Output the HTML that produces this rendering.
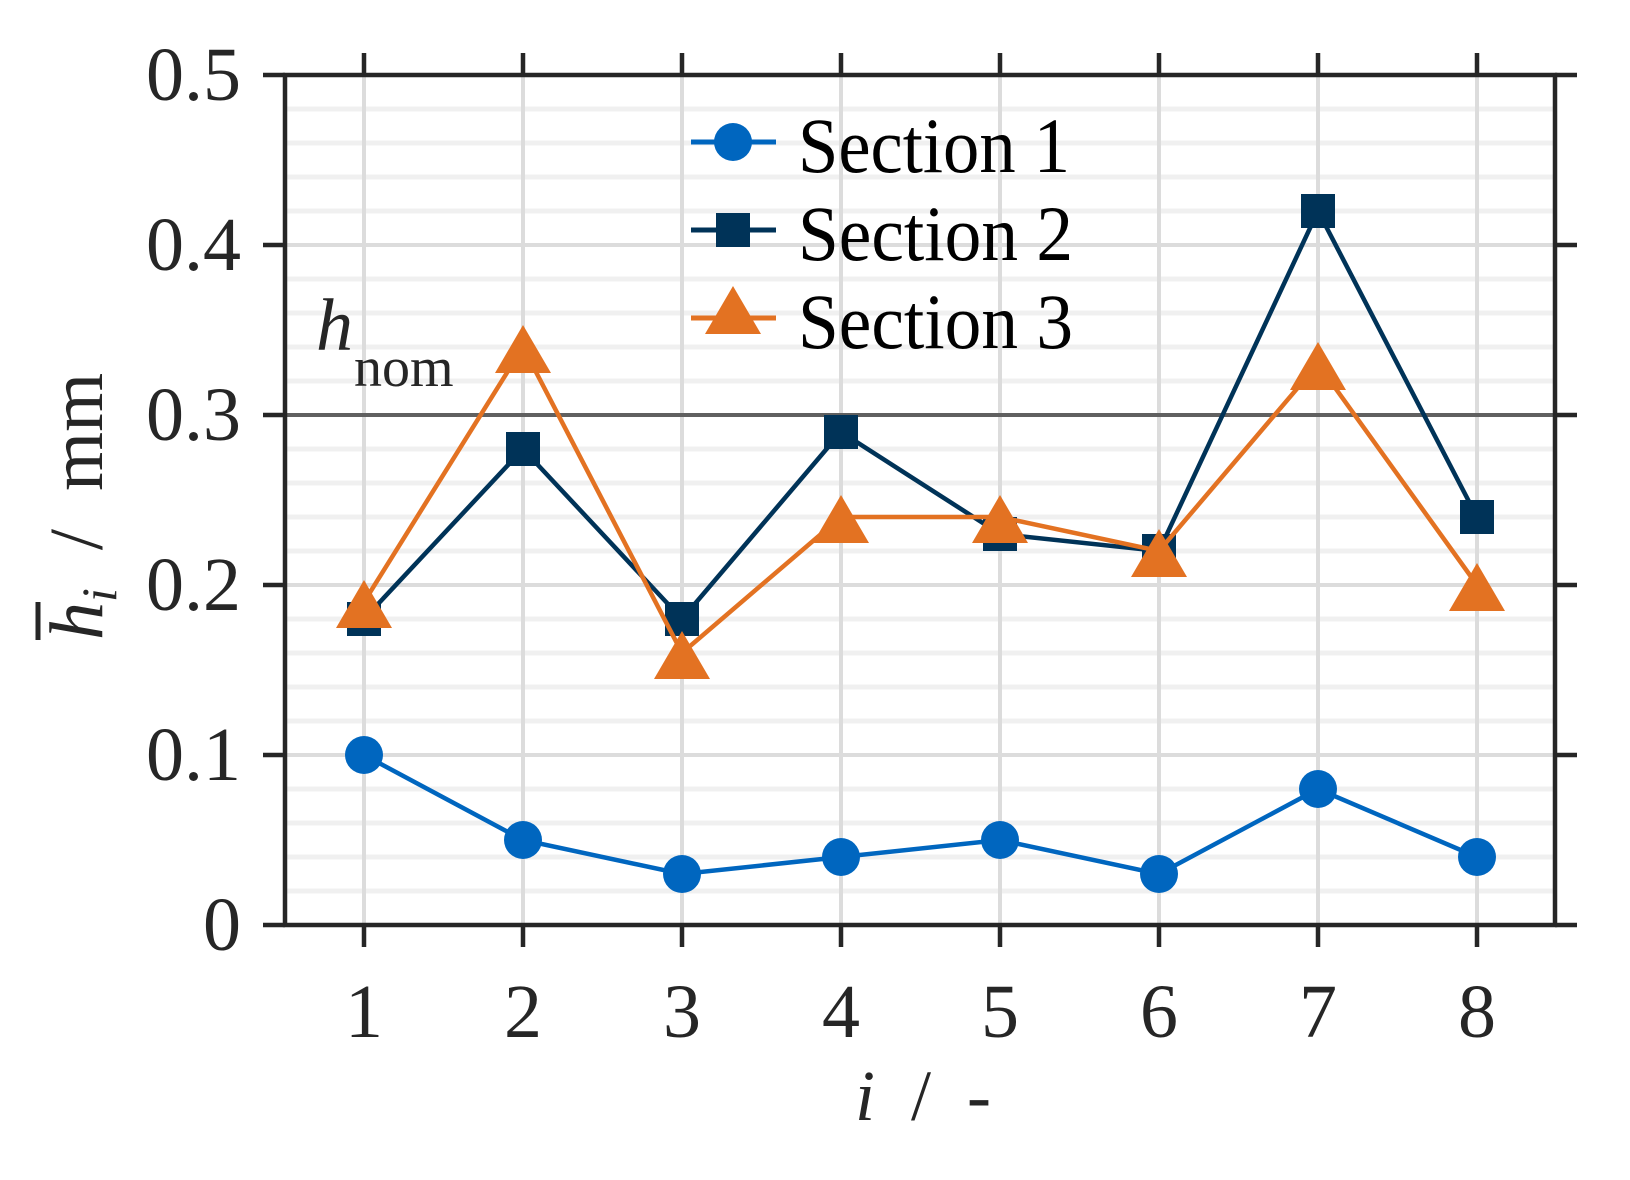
<!DOCTYPE html>
<html><head><meta charset="utf-8"><style>html,body{margin:0;padding:0;background:#fff}svg{display:block}</style></head>
<body>
<svg width="1630" height="1180" viewBox="0 0 1630 1180" xmlns="http://www.w3.org/2000/svg" font-family="Liberation Serif, serif" fill="#262626">
<g id="minor" stroke="#f0f0f0" stroke-width="5">
<line x1="287" x2="1553" y1="891" y2="891"/><line x1="287" x2="1553" y1="857" y2="857"/><line x1="287" x2="1553" y1="823" y2="823"/><line x1="287" x2="1553" y1="789" y2="789"/>
<line x1="287" x2="1553" y1="721" y2="721"/><line x1="287" x2="1553" y1="687" y2="687"/><line x1="287" x2="1553" y1="653" y2="653"/><line x1="287" x2="1553" y1="619" y2="619"/>
<line x1="287" x2="1553" y1="551" y2="551"/><line x1="287" x2="1553" y1="517" y2="517"/><line x1="287" x2="1553" y1="483" y2="483"/><line x1="287" x2="1553" y1="449" y2="449"/>
<line x1="287" x2="1553" y1="381" y2="381"/><line x1="287" x2="1553" y1="347" y2="347"/><line x1="287" x2="1553" y1="313" y2="313"/><line x1="287" x2="1553" y1="279" y2="279"/>
<line x1="287" x2="1553" y1="211" y2="211"/><line x1="287" x2="1553" y1="177" y2="177"/><line x1="287" x2="1553" y1="143" y2="143"/><line x1="287" x2="1553" y1="109" y2="109"/>
</g>
<g stroke="#dcdcdc" stroke-width="4">
<line x1="287" x2="1553" y1="755" y2="755"/><line x1="287" x2="1553" y1="585" y2="585"/><line x1="287" x2="1553" y1="245" y2="245"/>
<line x1="364" x2="364" y1="77" y2="923"/><line x1="523" x2="523" y1="77" y2="923"/><line x1="682" x2="682" y1="77" y2="923"/><line x1="841" x2="841" y1="77" y2="923"/>
<line x1="1000" x2="1000" y1="77" y2="923"/><line x1="1159" x2="1159" y1="77" y2="923"/><line x1="1318" x2="1318" y1="77" y2="923"/><line x1="1477" x2="1477" y1="77" y2="923"/>
</g>
<line x1="287" x2="1553" y1="415" y2="415" stroke="#606060" stroke-width="4"/>
<g stroke="#262626" stroke-width="4.5" fill="none">
<rect x="285" y="75" width="1270" height="850"/>
<path d="M263 75H285M263 245H285M263 415H285M263 585H285M263 755H285M263 925H285"/>
<path d="M1555 75H1577M1555 245H1577M1555 415H1577M1555 585H1577M1555 755H1577M1555 925H1577"/>
<path d="M364 925V947M523 925V947M682 925V947M841 925V947M1000 925V947M1159 925V947M1318 925V947M1477 925V947"/>
<path d="M364 75V53M523 75V53M682 75V53M841 75V53M1000 75V53M1159 75V53M1318 75V53M1477 75V53"/>
</g>
<g stroke="#003358" stroke-width="4.5" fill="none"><polyline points="364,619 523,449 682,619 841,432 1000,534 1159,551 1318,211 1477,517"/></g>
<g fill="#003358">
<rect x="347" y="602" width="34" height="34"/><rect x="506" y="432" width="34" height="34"/><rect x="665" y="602" width="34" height="34"/><rect x="824" y="415" width="34" height="34"/>
<rect x="983" y="517" width="34" height="34"/><rect x="1142" y="534" width="34" height="34"/><rect x="1301" y="194" width="34" height="34"/><rect x="1460" y="500" width="34" height="34"/>
</g>
<g stroke="#e37222" stroke-width="4.5" fill="none"><polyline points="364,602 523,347 682,653 841,517 1000,517 1159,551 1318,364 1477,585"/></g>
<g fill="#e37222">
<path d="M364 580l28 48h-56z"/><path d="M523 325l28 48h-56z"/><path d="M682 631l28 48h-56z"/><path d="M841 495l28 48h-56z"/>
<path d="M1000 495l28 48h-56z"/><path d="M1159 529l28 48h-56z"/><path d="M1318 342l28 48h-56z"/><path d="M1477 563l28 48h-56z"/>
</g>
<g stroke="#0066bf" stroke-width="4.5" fill="none"><polyline points="364,755 523,840 682,874 841,857 1000,840 1159,874 1318,789 1477,857"/></g>
<g fill="#0066bf">
<circle cx="364" cy="755" r="19"/><circle cx="523" cy="840" r="19"/><circle cx="682" cy="874" r="19"/><circle cx="841" cy="857" r="19"/>
<circle cx="1000" cy="840" r="19"/><circle cx="1159" cy="874" r="19"/><circle cx="1318" cy="789" r="19"/><circle cx="1477" cy="857" r="19"/>
</g>
<line x1="691" x2="776" y1="142" y2="142" stroke="#0066bf" stroke-width="5"/><circle cx="733" cy="142" r="19" fill="#0066bf"/>
<line x1="691" x2="776" y1="230" y2="230" stroke="#003358" stroke-width="5"/><rect x="716" y="213" width="34" height="34" fill="#003358"/>
<line x1="691" x2="776" y1="318" y2="318" stroke="#e37222" stroke-width="5"/><path d="M733 286l28 48h-56z" fill="#e37222"/>
<g font-size="78" fill="#000">
<text x="798" y="172" textLength="272" lengthAdjust="spacingAndGlyphs">Section 1</text><text x="798" y="260" textLength="275" lengthAdjust="spacingAndGlyphs">Section 2</text><text x="798" y="348" textLength="275" lengthAdjust="spacingAndGlyphs">Section 3</text>
</g>
<text x="316" y="350" font-size="74" font-style="italic">h</text>
<text x="354" y="386" font-size="56">nom</text>
<g font-size="76" text-anchor="end">
<text x="241" y="100">0.5</text><text x="241" y="270">0.4</text><text x="241" y="440">0.3</text><text x="241" y="610">0.2</text><text x="241" y="780">0.1</text><text x="241" y="950">0</text>
</g>
<g font-size="76" text-anchor="middle">
<text x="364" y="1037">1</text><text x="523" y="1037">2</text><text x="682" y="1037">3</text><text x="841" y="1037">4</text>
<text x="1000" y="1037">5</text><text x="1159" y="1037">6</text><text x="1318" y="1037">7</text><text x="1477" y="1037">8</text>
</g>
<text x="855" y="1120" font-size="72" xml:space="preserve"><tspan font-style="italic">i</tspan>  /  -</text>
<g transform="translate(102,640) rotate(-90)">
<text x="0" y="0" font-size="76" xml:space="preserve"><tspan font-style="italic">h</tspan><tspan font-style="italic" font-size="50" dy="14">i</tspan><tspan dy="-14">  /  mm</tspan></text>
<line x1="0" x2="38" y1="-64" y2="-64" stroke="#262626" stroke-width="5"/>
</g>
</svg>
</body></html>
